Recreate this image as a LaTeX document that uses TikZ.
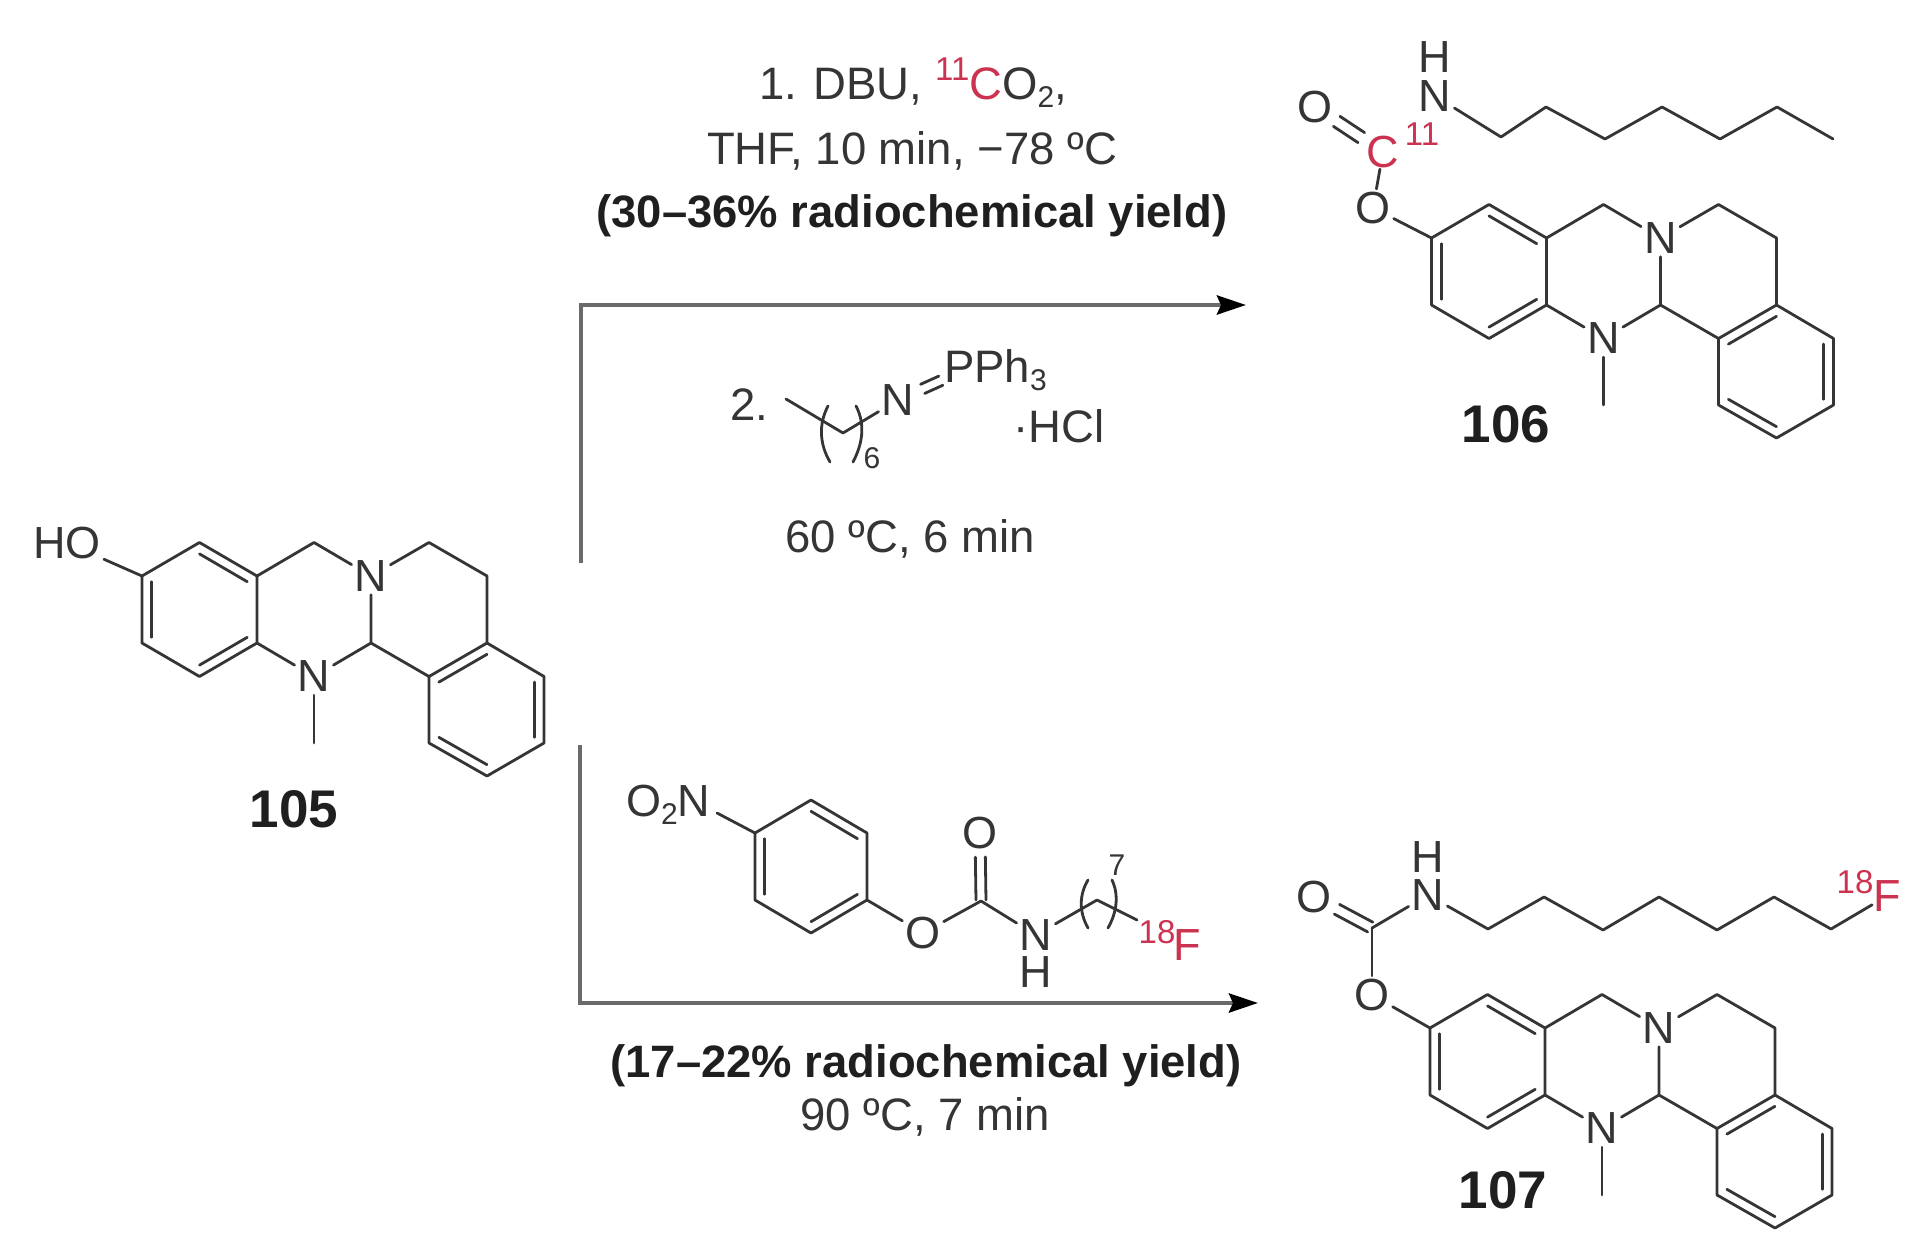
\documentclass[tikz,border=0pt]{standalone}
\usepackage{fontspec}
\setmainfont{Liberation Sans}
\usetikzlibrary{calc,arrows.meta}
\definecolor{ink}{HTML}{353535}
\definecolor{rule}{HTML}{6A6A6A}
\definecolor{radio}{HTML}{CC3350}
\newcommand{\fs}[1]{\fontsize{#1}{#1}\selectfont}
\newcommand{\subn}[1]{\raisebox{-8pt}{\fs{30}#1}}
\newcommand{\supn}[1]{\raisebox{19pt}{\fs{33}#1}}
\tikzset{
  bond/.style={draw=ink,line width=2.8pt,line join=round,line cap=round},
  reactionarrow/.style={draw=rule,line width=4.5pt,-{Stealth[length=29pt,width=19pt,inset=4pt,color=black]}},
  atom/.style={font=\fs{45},text=ink,inner sep=3pt},
  hatom/.style={atom,inner sep=0pt},
  atomred/.style={atom,text=radio},
  isotope/.style={font=\fs{33},text=radio,inner sep=0pt},
  repeatn/.style={font=\fs{30},text=ink,inner sep=0pt},
  cond/.style={font=\fs{45.5},text=ink,inner sep=0pt,anchor=base},
  yieldtext/.style={font=\fs{45.4}\bfseries,text=black!88,inner sep=0pt,anchor=base},
  cmpd/.style={font=\fs{53}\bfseries,text=black!88,inner sep=0pt,anchor=base},
}
% inner line of an aromatic double bond
\newcommand{\inner}[3]{\draw[bond] ($(#1)!.17!(#3)$) -- ($(#2)!.17!(#3)$);}
% double bond between two named points: a, b, half offset, shorten at a, shorten at b
\newcommand{\dblb}[5]{%
  \draw[bond,shorten <=#4pt,shorten >=#5pt] ($(#1)!#3pt!90:(#2)$) -- ($(#2)!#3pt!-90:(#1)$);
  \draw[bond,shorten <=#4pt,shorten >=#5pt] ($(#1)!#3pt!-90:(#2)$) -- ($(#2)!#3pt!90:(#1)$);}
% tricyclic core: prefix, x, y of the oxygen-bearing ring carbon
\newcommand{\tricycle}[3]{%
\begin{scope}[shift={(#2,#3)}]
  \coordinate (#1a) at (0,0);
  \coordinate (#1b) at (57.5,-33.5);
  \coordinate (#1c) at (115,0);
  \coordinate (#1d) at (115,67);
  \coordinate (#1e) at (57.5,100.5);
  \coordinate (#1f) at (0,67);
  \coordinate (#1g) at (172,-33.5);
  \node[atom] (#1h) at (229,0) {N};
  \coordinate (#1i) at (287,-33.5);
  \coordinate (#1j) at (345,0);
  \coordinate (#1k) at (345,67);
  \coordinate (#1l) at (229,67);
  \node[atom] (#1m) at (172,100.5) {N};
  \coordinate (#1n) at (172,167);
  \coordinate (#1o) at (287,100.5);
  \coordinate (#1p) at (287,167);
  \coordinate (#1q) at (345,200);
  \coordinate (#1r) at (402,167);
  \coordinate (#1s) at (402,100.5);
  \coordinate (#1A) at (57.5,33.5);
  \coordinate (#1B) at (345,133.5);
  \draw[bond] (#1a) -- (#1b) -- (#1c) -- (#1d) -- (#1e) -- (#1f) -- cycle;
  \draw[bond] (#1c) -- (#1g) -- (#1h);
  \draw[bond] (#1h) -- (#1i) -- (#1j) -- (#1k) -- (#1o);
  \draw[bond] (#1h) -- (#1l) -- (#1o);
  \draw[bond] (#1l) -- (#1m);
  \draw[bond] (#1d) -- (#1m);
  \draw[bond] (#1m) -- (#1n);
  \draw[bond] (#1o) -- (#1p) -- (#1q) -- (#1r) -- (#1s) -- (#1k);
  \inner{#1b}{#1c}{#1A}
  \inner{#1a}{#1f}{#1A}
  \inner{#1d}{#1e}{#1A}
  \inner{#1k}{#1o}{#1B}
  \inner{#1r}{#1s}{#1B}
  \inner{#1p}{#1q}{#1B}
\end{scope}}
\begin{document}
\begin{tikzpicture}[x=1pt,y=-1pt]
\useasboundingbox (0,0) rectangle (1925,1256);
\fill[white] (0,0) rectangle (1925,1256);

% ---------- 105
\tricycle{x}{142}{576}
\node[atom] (hoX) at (67,543) {HO};
\draw[bond] (hoX) -- (xa);
\node[cmpd] (lab105) at (294,827) {105};

% ---------- 106
\tricycle{y}{1431.5}{238}
\node[atom] (oY) at (1373,208) {O};
\draw[bond] (oY) -- (ya);
\node[atomred,inner sep=1pt] (cY) at (1383,152) {C};
\node[isotope] (isoY) at (1422,134) {11};
\node[atom] (dOY) at (1315,107) {O};
\node[atom] (nY) at (1435,96) {N};
\node[hatom] (hY) at (1435,57) {H};
\draw[bond] (cY) -- (oY);
\dblb{dOY}{cY}{6}{26}{26}
\coordinate (y1) at (1501,137);
\coordinate (y2) at (1546,107);
\coordinate (y3) at (1605,139);
\coordinate (y4) at (1662,107);
\coordinate (y5) at (1720,139);
\coordinate (y6) at (1777,107);
\coordinate (y7) at (1833,139);
\draw[bond] (nY) -- (y1) -- (y2) -- (y3) -- (y4) -- (y5) -- (y6) -- (y7);
\node[cmpd] (lab106) at (1506,442) {106};

% ---------- 107
\tricycle{z}{1430}{1028}
\node[atom] (oZ) at (1372,995) {O};
\draw[bond] (oZ) -- (za);
\coordinate (cZ) at (1372,928);
\node[atom] (dOZ) at (1314,897) {O};
\node[atom] (nZ) at (1428,895) {N};
\node[hatom] (hZ) at (1428,857) {H};
\draw[bond] (cZ) -- (oZ);
\draw[bond] (cZ) -- (nZ);
\dblb{dOZ}{cZ}{5.5}{26}{2}
\coordinate (z1) at (1488,929);
\coordinate (z2) at (1544,897);
\coordinate (z3) at (1603,930);
\coordinate (z4) at (1659,897);
\coordinate (z5) at (1717,930);
\coordinate (z6) at (1774,897);
\coordinate (z7) at (1831,929);
\node[atomred,inner sep=1pt] (fZ) at (1887,896) {F};
\node[isotope] (isoZ) at (1855,882) {18};
\draw[bond] (nZ) -- (z1) -- (z2) -- (z3) -- (z4) -- (z5) -- (z6) -- (z7) -- (fZ);
\node[cmpd] (lab107) at (1503,1208) {107};

% ---------- arrows
\coordinate (upS) at (581,563);
\coordinate (upE) at (1246,305);
\coordinate (dnS) at (580,745);
\coordinate (dnE) at (1258,1003);
\draw[reactionarrow] (upS) |- (upE);
\draw[reactionarrow] (dnS) |- (dnE);

% ---------- upper conditions
\node[cond] (c1) at (913,99) {1. DBU, {\color{radio}\supn{11}C}O\subn{2},};
\node[cond] (c2) at (912,164) {THF, 10 min, −78 ºC};
\node[yieldtext] (c3) at (912,227) {(30–36\% radiochemical yield)};
\node[cond,anchor=base west] (two) at (730,420) {2.};
\coordinate (r0) at (786,399);
\coordinate (r1) at (843,433);
\node[atom] (rN) at (898,400) {N};
\node[cond,anchor=base west] (rP) at (944,382) {PPh\subn{3}};
\coordinate (rPc) at (960,372);
\draw[bond] (r0) -- (r1) -- (rN);
\dblb{rN}{rPc}{5}{27}{21}
\coordinate (rL1) at (828,406);
\coordinate (rL2) at (830,462);
\coordinate (rR1) at (856,406);
\coordinate (rR2) at (853,462);
\draw[bond] (rL1) .. controls (818,425) and (820,445) .. (rL2);
\draw[bond] (rR1) .. controls (866,425) and (862,445) .. (rR2);
\node[repeatn] (six) at (872,458) {6};
\node[cond,anchor=base west] (hcl) at (1013,442) {·HCl};
\node[cond] (c4) at (910,552) {60 ºC, 6 min};

% ---------- lower conditions
\node[atom,anchor=base west,inner sep=0pt] (no2) at (626,816) {O\subn{2}N};
\coordinate (no2e) at (717,813);
\coordinate (pa) at (755,833);
\coordinate (pb) at (811,800);
\coordinate (pc) at (867,833);
\coordinate (pd) at (867,900);
\coordinate (pe) at (811,933);
\coordinate (pf) at (755,900);
\coordinate (pR) at (811,866.5);
\draw[bond] (pa) -- (pb) -- (pc) -- (pd) -- (pe) -- (pf) -- cycle;
\draw[bond] (no2e) -- (pa);
\inner{pb}{pc}{pR}
\inner{pa}{pf}{pR}
\inner{pd}{pe}{pR}
\node[atom] (pO) at (923,933) {O};
\coordinate (pC) at (981,901);
\node[atom] (pdO) at (980,833) {O};
\node[atom] (pN) at (1036,935) {N};
\node[hatom] (pH) at (1036,972) {H};
\draw[bond] (pd) -- (pO);
\draw[bond] (pO) -- (pC) -- (pN);
\dblb{pC}{pdO}{5}{1}{24}
\coordinate (p1) at (1097,900);
\coordinate (p2) at (1137,920);
\draw[bond] (pN) -- (p1) -- (p2);
\coordinate (pL1) at (1088,880);
\coordinate (pL2) at (1088,928);
\coordinate (pR1) at (1112,880);
\coordinate (pR2) at (1108,928);
\draw[bond] (pL1) .. controls (1079,895) and (1079,912) .. (pL2);
\draw[bond] (pR1) .. controls (1119,895) and (1117,912) .. (pR2);
\node[repeatn] (seven) at (1117,865) {7};
\node[atomred,inner sep=1pt] (pF) at (1187,945) {F};
\node[isotope] (pIso) at (1157,932) {18};
\node[yieldtext] (c5) at (926,1077) {(17–22\% radiochemical yield)};
\node[cond] (c6) at (925,1130) {90 ºC, 7 min};
\end{tikzpicture}
\end{document}
